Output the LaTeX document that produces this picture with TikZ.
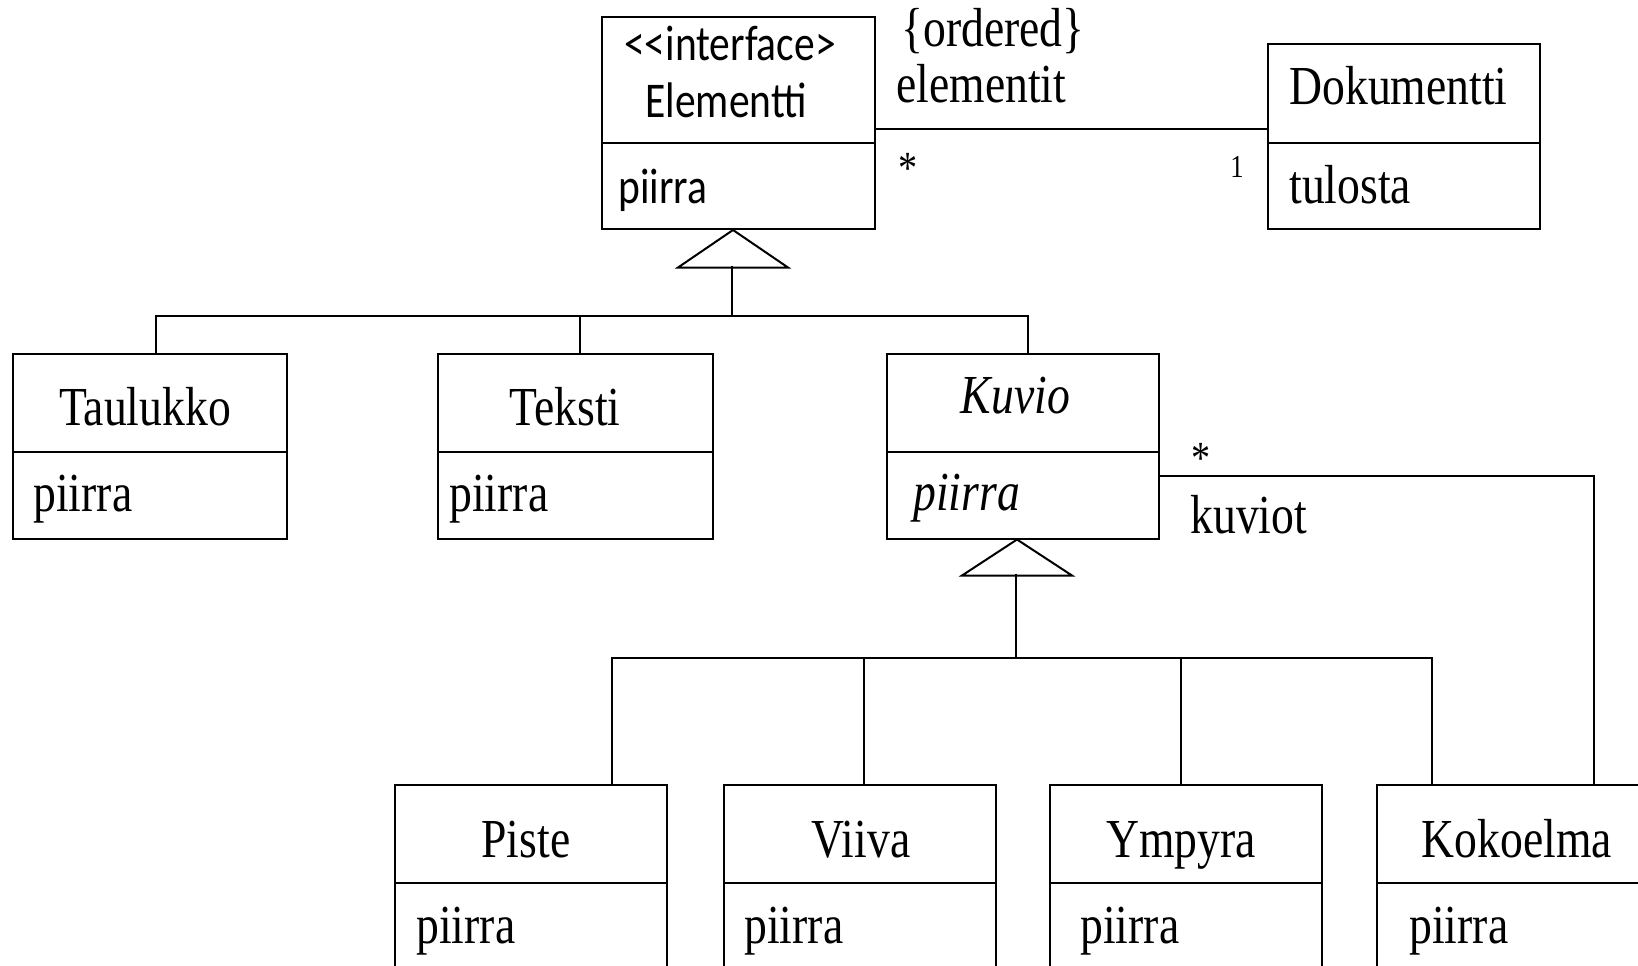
\documentclass[tikz,border=0pt]{standalone}
\usepackage{fontspec}
\newfontfamily\rmx{Liberation Serif}[FakeStretch=0.83]
\newfontfamily\sfx{Carlito}[FakeStretch=0.83]
\begin{document}
\begin{tikzpicture}[x=0.5pt,y=-0.5pt,
  box/.style={draw, line width=1pt, rectangle, inner sep=0pt, anchor=north west, minimum width=136pt},
  head/.style={box, minimum height=49.25pt},
  ops/.style={box, minimum height=43.25pt},
  txt/.style={inner sep=0pt, font=\rmx\fontsize{27.5}{30}\selectfont},
  ttl/.style={txt, anchor=base},
  op/.style={txt, anchor=base west},
  stxt/.style={inner sep=0pt, font=\sfx\fontsize{25}{28}\selectfont},
  conn/.style={line width=1pt},
  gen/.style={line width=1pt, fill=white}]
\useasboundingbox (0,0) rectangle (1638,965);
\clip (0,0) rectangle (1638,965);

% Elementti
\node[box, minimum width=136.5pt, minimum height=63pt] (elemH) at (601,16) {};
\node[box, minimum width=136.5pt, minimum height=43pt] (elemO) at (601,142) {};
\node[stxt, anchor=base] (elemS) at (730,60) {<{}<interface>};
\node[stxt, anchor=base] (elemN) at (726,117) {Elementti};
\node[stxt, anchor=base west] (elemP) at (618,203) {piirra};

% Dokumentti
\node[box, minimum width=136pt, minimum height=49.5pt] (dokH) at (1267,43) {};
\node[box, minimum width=136pt, minimum height=43pt] (dokO) at (1267,142) {};
\node[op] (dokN) at (1289,104) {Dokumentti};
\node[op] (dokP) at (1289,203) {tulosta};

% association
\draw[conn] ([yshift=-24.5pt]elemH.east) -- ([yshift=-24.5pt]elemH.east -| dokH.west);
\node[op] (ord) at (901,46) {\{ordered\}};
\node[op] (elt) at (896,102) {elementit};
\node[inner sep=0pt, font=\rmx\fontsize{23}{25}\selectfont] (m1) at (908,168) {*};
\node[inner sep=0pt, font=\rmx\fontsize{16}{18}\selectfont, anchor=base] (m2) at (1237,177) {1};

% second row
\node[head, minimum width=137pt] (tauH) at (11.5,352.5) {};
\node[ops, minimum width=137pt] (tauO) at (11.5,451) {};
\node[ttl] (tauN) at (145,425) {Taulukko};
\node[op] (tauP) at (33,511) {piirra};

\node[head, minimum width=137.5pt] (tekH) at (437,352.5) {};
\node[ops, minimum width=137.5pt] (tekO) at (437,451) {};
\node[ttl] (tekN) at (565,425) {Teksti};
\node[op] (tekP) at (449,511) {piirra};

\node[head] (kuvH) at (886,352.5) {};
\node[ops] (kuvO) at (886,451) {};
\node[ttl] (kuvN) at (1015.5,413) {\itshape Kuvio};
\node[op] (kuvP) at (913,510) {\itshape piirra};

% generalization 1
\draw[gen] ([xshift=-2.75pt]elemO.south) -- ++(-55,37.5) -- ++(110,0) -- cycle;
\coordinate (g1) at (732,265.5);
\coordinate (bus1) at (732,315.5);
\draw[conn] (g1) -- (bus1);
\draw[conn] (bus1) -| ([xshift=3pt]tauH.north);
\draw[conn] (bus1) -| ([xshift=2.25pt]tekH.north);
\draw[conn] (bus1) -| ([xshift=2.25pt]kuvH.north);

% third row
\node[head] (pisH) at (394,783.5) {};
\node[box, minimum height=80pt] (pisO) at (394,882) {};
\node[ttl] (pisN) at (526,857) {Piste};
\node[op] (pisP) at (416,943) {piirra};

\node[head] (viiH) at (722.5,783.5) {};
\node[box, minimum height=80pt] (viiO) at (722.5,882) {};
\node[ttl] (viiN) at (861,857) {Viiva};
\node[op] (viiP) at (744,943) {piirra};

\node[head] (ympH) at (1049,783.5) {};
\node[box, minimum height=80pt] (ympO) at (1049,882) {};
\node[ttl] (ympN) at (1181,857) {Ympyra};
\node[op] (ympP) at (1080,943) {piirra};

\node[head, minimum width=150pt] (kokH) at (1376,783.5) {};
\node[box, minimum width=150pt, minimum height=80pt] (kokO) at (1376,882) {};
\node[ttl] (kokN) at (1517,857) {Kokoelma};
\node[op] (kokP) at (1409,943) {piirra};

% generalization 2
\draw[gen] ([xshift=-3pt]kuvO.south) -- ++(-55,36) -- ++(110,0) -- cycle;
\coordinate (g2) at (1016,573.5);
\coordinate (bus2) at (1016,658);
\draw[conn] (g2) -- (bus2);
\draw[conn] (bus2) -| ([xshift=109pt]pisH.north west);
\draw[conn] (bus2) -| ([xshift=70.75pt]viiH.north west);
\draw[conn] (bus2) -| ([xshift=66pt]ympH.north west);
\draw[conn] (bus2) -| ([xshift=28pt]kokH.north west);

% aggregation Kuvio - Kokoelma
\draw[conn] ([yshift=9.75pt]kuvO.east) -| ([xshift=109pt]kokH.north west);
\node[inner sep=0pt, font=\rmx\fontsize{23}{25}\selectfont] (m3) at (1201,458) {*};
\node[op] (kvt) at (1190,533) {kuviot};
\end{tikzpicture}
\end{document}
